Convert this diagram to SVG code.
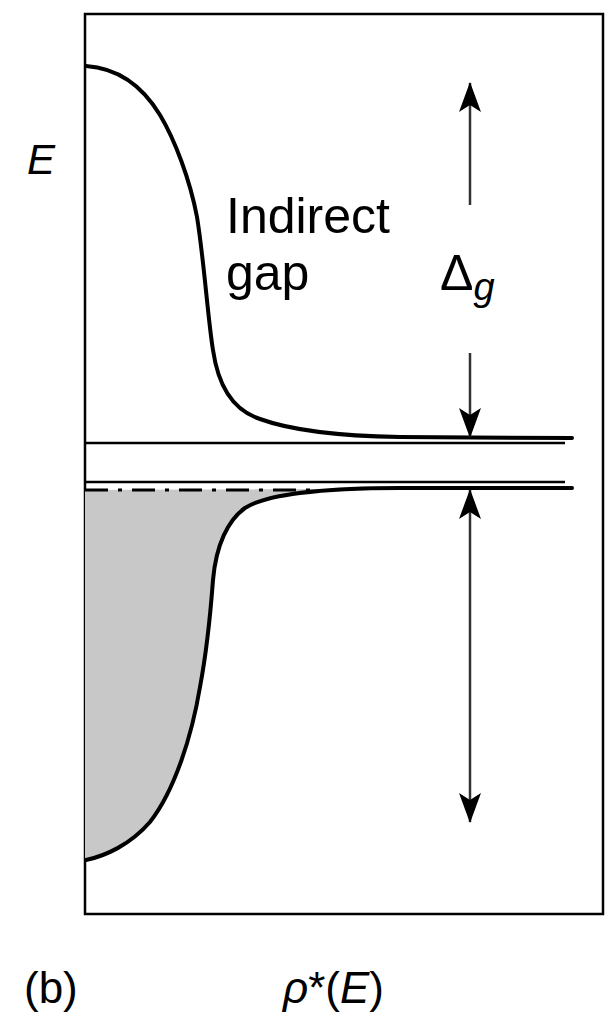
<svg xmlns="http://www.w3.org/2000/svg" width="610" height="1015" viewBox="0 0 610 1015">
<style>
.frame{fill:none;stroke:#000;stroke-width:2.5}
.curve{fill:none;stroke:#000;stroke-width:4;stroke-linecap:round}
.hline{fill:none;stroke:#000;stroke-width:2.5}
.arrow{fill:none;stroke:#333;stroke-width:2.5}
.lbl{font-family:"Liberation Sans",Arial,sans-serif;fill:#000}
</style>
<defs>
<marker id="ah" viewBox="0 0 30 22" refX="29" refY="11" markerWidth="30" markerHeight="22" markerUnits="userSpaceOnUse" orient="auto-start-reverse">
<path d="M0,0 L30,11 L0,22 L7,11 Z" fill="#000"/>
</marker>
</defs>
<rect class="frame" x="85" y="14" width="518" height="900"/>
<g id="fill">
<path d="M572,488 L400,488 C320,488 265,495 245,508 C228,520 216,545 213,580 C210,620 206,655 200,687 C192,735 175,790 150,822 C130,845 105,856 85,860 L85,490 Z" fill="#c8c8c8"/>
</g>
<g id="lines">
<line class="hline" x1="85" y1="443" x2="565" y2="443"/>
<line class="hline" x1="85" y1="482" x2="565" y2="482"/>
<line x1="85" y1="490" x2="310" y2="490" stroke="#000" stroke-width="3" stroke-dasharray="23,10,4,10"/>
</g>
<g id="curves">
<path class="curve" d="M86,66 C115,68 140,82 160,115 C175,140 190,180 197,217 C204,260 208,320 213,350 C218,385 232,410 260,419 C290,430 340,436 400,437 L572,438"/>
<path class="curve" d="M572,488 L400,488 C320,488 265,495 245,508 C228,520 216,545 213,580 C210,620 206,655 200,687 C192,735 175,790 150,822 C130,845 105,856 86,860"/>
</g>
<g id="connectors">
<line class="arrow" x1="470" y1="205" x2="470" y2="83" marker-end="url(#ah)"/>
<line class="arrow" x1="470" y1="353" x2="470" y2="437" marker-end="url(#ah)"/>
<line class="arrow" x1="470" y1="490" x2="470" y2="822" marker-start="url(#ah)" marker-end="url(#ah)"/>
</g>
<g id="labels">
<text class="lbl" x="27" y="174" font-size="42" font-style="italic">E</text>
<text class="lbl" x="226" y="233" font-size="50">Indirect</text>
<text class="lbl" x="226" y="290" font-size="50">gap</text>
<text class="lbl" x="440" y="290" font-size="50">Δ<tspan font-size="38" font-style="italic" dy="10">g</tspan></text>
<text class="lbl" x="24" y="1003" font-size="44">(b)</text>
<text class="lbl" x="283" y="1003" font-size="44"><tspan font-style="italic">ρ</tspan>*(<tspan font-style="italic">E</tspan>)</text>
</g>
</svg>
